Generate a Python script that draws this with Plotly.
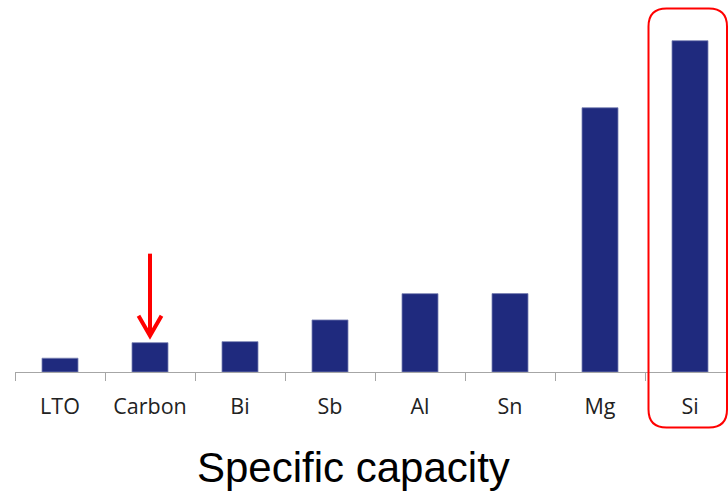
import plotly.graph_objects as go

# Anode materials and their specific capacity (mAh/g)
materials = ["LTO", "Carbon", "Bi", "Sb", "Al", "Sn", "Mg", "Si"]
capacity = [175, 372, 385, 660, 993, 994, 3350, 4200]

W, H = 728, 492
L, R, T, B = 15, 0, 0, 120
plot_w = W - L - R
plot_h = H - T - B
cat_px = 90  # pixel width of one category slot
y_top = 4716

RED = "#FF0000"
NAVY = "#1F2A7E"


def px(x):
    return (x - L) / plot_w


def py(y):
    return (H - B - y) / plot_h


fig = go.Figure(
    go.Bar(
        x=materials,
        y=capacity,
        width=0.4,
        marker=dict(color=NAVY, line=dict(color="#7A82B4", width=0.8)),
        hoverinfo="x+y",
    )
)

# Rounded frame highlighting silicon
x0, y0, x1, y1, r = 648.5, 8.5, 727.0, 427.5, 18
path = (
    f"M {px(x0 + r)},{py(y0)} L {px(x1 - r)},{py(y0)} "
    f"Q {px(x1)},{py(y0)} {px(x1)},{py(y0 + r)} "
    f"L {px(x1)},{py(y1 - r)} Q {px(x1)},{py(y1)} {px(x1 - r)},{py(y1)} "
    f"L {px(x0 + r)},{py(y1)} Q {px(x0)},{py(y1)} {px(x0)},{py(y1 - r)} "
    f"L {px(x0)},{py(y0 + r)} Q {px(x0)},{py(y0)} {px(x0 + r)},{py(y0)} Z"
)
fig.add_shape(type="path", path=path, xref="paper", yref="paper",
              line=dict(color=RED, width=2), fillcolor="rgba(0,0,0,0)")

# Arrow pointing down at the carbon bar (pixel offsets from the bar top)
carbon_i = materials.index("Carbon")
carbon_v = capacity[carbon_i]
arrow_common = dict(
    xref="x", yref="y", xsizemode="pixel", ysizemode="pixel",
    xanchor=carbon_i, yanchor=carbon_v,
    line=dict(color=RED, width=4),
)
fig.add_shape(type="line", x0=0, x1=0, y0=10, y1=89, **arrow_common)
fig.add_shape(type="path", path="M -11.5,27 L 0,7 L 11.5,27",
              fillcolor="rgba(0,0,0,0)", **arrow_common)

fig.add_annotation(
    text="Specific capacity", xref="paper", yref="paper",
    x=px(353), y=py(467), xanchor="center", yanchor="middle",
    showarrow=False,
    font=dict(family="Liberation Sans, Arial", size=42, color="#000000"),
)

fig.update_layout(
    width=W, height=H,
    margin=dict(l=L, r=R, t=T, b=B, pad=0),
    paper_bgcolor="white", plot_bgcolor="white",
    showlegend=False,
    bargap=0.6,
    xaxis=dict(
        type="category",
        range=[-0.5, -0.5 + plot_w / cat_px],
        showline=True, linecolor="#A6A6A6", linewidth=1.3,
        ticks="outside", tickson="boundaries", ticklen=8, tickwidth=1,
        tickcolor="#A6A6A6",
        tickfont=dict(family="Open Sans", size=21.5, color="#222222"),
        showgrid=False, zeroline=False,
        ticklabelstandoff=15,
    ),
    yaxis=dict(range=[0, y_top], visible=False, showgrid=False, zeroline=False),
)

fig.write_html("out.html")
